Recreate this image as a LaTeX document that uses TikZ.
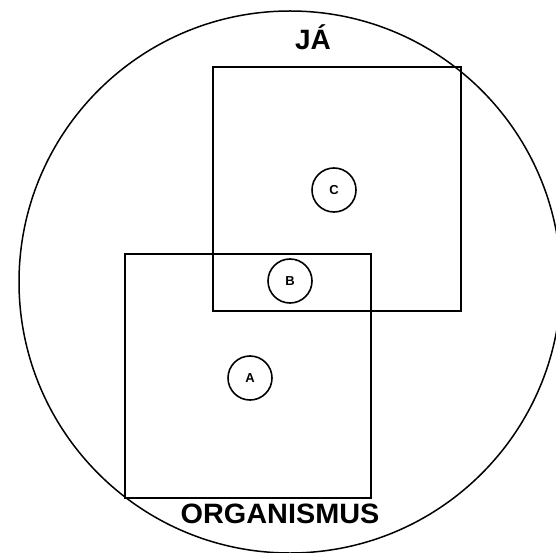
\documentclass[tikz,border=0pt]{standalone}
\usepackage{fontspec}
\setmainfont{Liberation Sans}
\begin{document}
\begin{tikzpicture}[x=1pt,y=-1pt,
  frame/.style={draw,line width=2pt},
  small/.style={draw,circle,line width=1.6pt,minimum size=44pt,inner sep=0pt,font=\fontsize{13}{13}\selectfont\bfseries},
  bigtext/.style={font=\fontsize{28}{28}\selectfont\bfseries,inner sep=0pt,anchor=base}]
\useasboundingbox (0,0) rectangle (556,553);
\draw[line width=1.5pt] (290,282) circle[radius=271];
\draw[frame] (213,67) rectangle (461,311);
\draw[frame] (125,254) rectangle (371,498);
\node[small] (C) at (334,190) {C};
\node[small] (B) at (290,281) {B};
\node[small] (A) at (250,378) {A};
\node[bigtext] (ja) at (313,50) {JÁ};
\node[bigtext,xscale=1.03] (org) at (280,523) {ORGANISMUS};
\end{tikzpicture}
\end{document}
